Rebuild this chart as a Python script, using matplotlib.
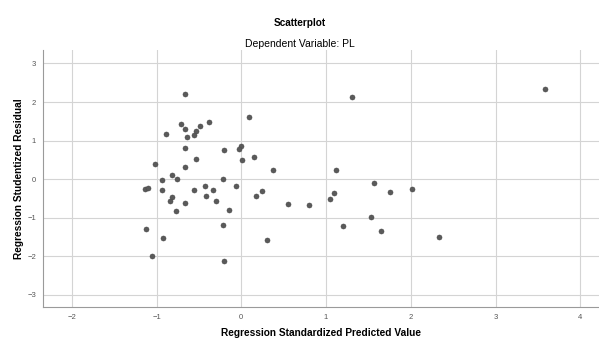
"""Residual scatterplot (SPSS style): studentized residual vs standardized predicted value."""

import matplotlib
matplotlib.use("Agg")
import matplotlib.pyplot as plt

plt.rcParams['font.family'] = ['Liberation Sans', 'DejaVu Sans']

# standardized predicted values (x) and studentized residuals (y)
pred_std = [-0.67, -0.71, -0.66, -0.89, -0.38, -0.49, -0.54, -0.56, -0.64, -0.67,
            -0.54, -1.02, -0.67, -0.82, 0.09, -0.20, 0.00, -0.03, 0.01, 0.15,
            0.38, -0.22, -0.93, -0.76, -1.14, -1.10, -0.94, -0.56, -0.43, -0.33,
            -0.42, -0.30, -0.82, -0.84, -0.66, -0.77, -1.12, -0.92, -1.05, -0.06,
            -0.15, -0.22, 0.17, 0.24, 0.55, 0.30, -0.20, 1.12, 1.57, 1.76,
            2.01, 1.09, 1.05, 0.80, 1.53, 1.20, 1.65, 2.33, 1.31, 3.58]
resid_stud = [2.20, 1.44, 1.31, 1.18, 1.48, 1.38, 1.26, 1.15, 1.08, 0.81,
              0.52, 0.40, 0.31, 0.11, 1.60, 0.76, 0.86, 0.78, 0.49, 0.57,
              0.23, 0.00, -0.03, -0.01, -0.27, -0.22, -0.29, -0.29, -0.18, -0.29,
              -0.44, -0.57, -0.47, -0.57, -0.61, -0.83, -1.30, -1.52, -1.99, -0.18,
              -0.81, -1.19, -0.43, -0.31, -0.65, -1.58, -2.13, 0.24, -0.10, -0.33,
              -0.27, -0.36, -0.52, -0.67, -0.99, -1.21, -1.34, -1.51, 2.14, 2.33]

x_ticks = [-2, -1, 0, 1, 2, 3, 4]
y_ticks = [-3, -2, -1, 0, 1, 2, 3]

fig = plt.figure(figsize=(5.99, 3.40), dpi=100)
ax = fig.add_axes([0.0718, 0.097, 0.928, 0.756])

ax.scatter(pred_std, resid_stud, s=13, color='#5a5a5a', edgecolors='#4a4a4a',
           linewidths=0.4, zorder=3)

ax.set_xlim(-2.34, 4.22)
ax.set_ylim(-3.32, 3.35)
ax.set_xticks(x_ticks)
ax.set_yticks(y_ticks)
ax.grid(True, color='#d4d4d4', linewidth=0.8, zorder=0)

for side in ['top', 'right']:
    ax.spines[side].set_visible(False)
for side in ['left', 'bottom']:
    ax.spines[side].set_color('#9a9a9a')
    ax.spines[side].set_linewidth(0.8)

ax.tick_params(length=0, labelsize=5.5, labelcolor='#555555', pad=5)

ax.set_xlabel('Regression Standardized Predicted Value', fontsize=7.3,
              fontweight='bold')
ax.set_ylabel('Regression Studentized Residual', fontsize=7.3,
              fontweight='bold')
ax.xaxis.set_label_coords(0.5, -0.08)
ax.yaxis.set_label_coords(-0.034, 0.5)

fig.text(0.5, 0.932, 'Scatterplot', ha='center', va='center',
         fontsize=7.2, fontweight='bold')
fig.text(0.5, 0.872, 'Dependent Variable: PL', ha='center', va='center',
         fontsize=7.5)

fig.savefig('out.png', dpi=100)
